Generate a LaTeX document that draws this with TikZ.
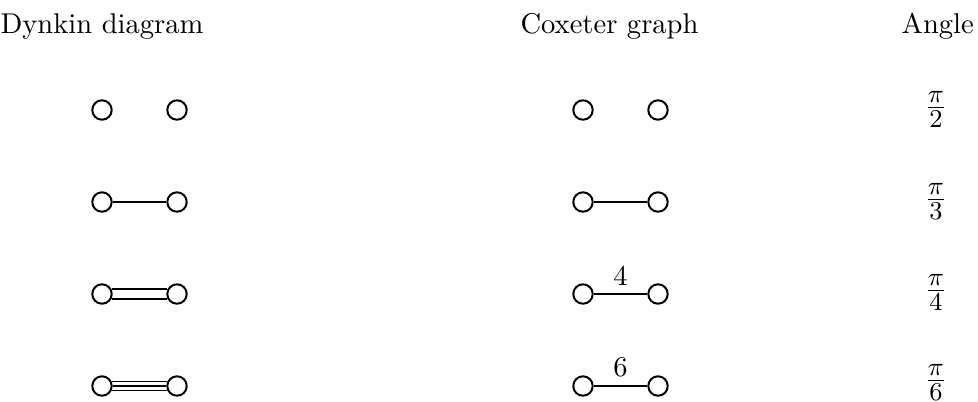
\documentclass[tikz,border=0pt]{standalone}
\begin{document}
\begin{tikzpicture}[x=0.35pt,y=-0.35pt,
  vert/.style={circle,draw,line width=0.7pt,minimum size=6.8pt,inner sep=0pt},
  edge/.style={line width=0.55pt},
  title/.style={anchor=base west,inner sep=0pt},
  ang/.style={anchor=base,inner sep=0pt,font=\fontsize{12.2}{15}\selectfont},
  lab/.style={anchor=base,inner sep=0pt}]
\useasboundingbox (0,0) rectangle (978,401);
\clip (0,0) rectangle (978,401);
% titles
\node[title] (t1) at (0,33) {Dynkin diagram};
\node[title] (t2) at (520,33) {Coxeter graph};
\node[title] (t3) at (901,33) {Angle};
% row 1
\node[vert] (d1a) at (102,110) {};
\node[vert] (d1b) at (177,110) {};
\node[vert] (c1a) at (583,110) {};
\node[vert] (c1b) at (658,110) {};
\node[ang] (a1) at (936,116) {$\frac{\pi}{2}$};
% row 2
\node[vert] (d2a) at (102,202) {};
\node[vert] (d2b) at (177,202) {};
\draw[edge] (d2a) -- (d2b);
\node[vert] (c2a) at (583,202) {};
\node[vert] (c2b) at (658,202) {};
\draw[edge] (c2a) -- (c2b);
\node[ang] (a2) at (936,208) {$\frac{\pi}{3}$};
% row 3
\node[vert] (d3a) at (102,294) {};
\node[vert] (d3b) at (177,294) {};
\draw[edge] (d3a.27) -- (d3b.153);
\draw[edge] (d3a.-27) -- (d3b.-153);
\node[vert] (c3a) at (583,294) {};
\node[vert] (c3b) at (658,294) {};
\draw[edge] (c3a) -- (c3b);
\node[lab] (l3) at (620.5,285) {4};
\node[ang] (a3) at (936,299) {$\frac{\pi}{4}$};
% row 4
\node[vert] (d4a) at (102,386) {};
\node[vert] (d4b) at (177,386) {};
\draw[edge] (d4a.26) -- (d4b.154);
\draw[edge] (d4a) -- (d4b);
\draw[edge] (d4a.-26) -- (d4b.-154);
\node[vert] (c4a) at (583,386) {};
\node[vert] (c4b) at (658,386) {};
\draw[edge] (c4a) -- (c4b);
\node[lab] (l4) at (620.5,376) {6};
\node[ang] (a4) at (936,389) {$\frac{\pi}{6}$};
\end{tikzpicture}
\end{document}
